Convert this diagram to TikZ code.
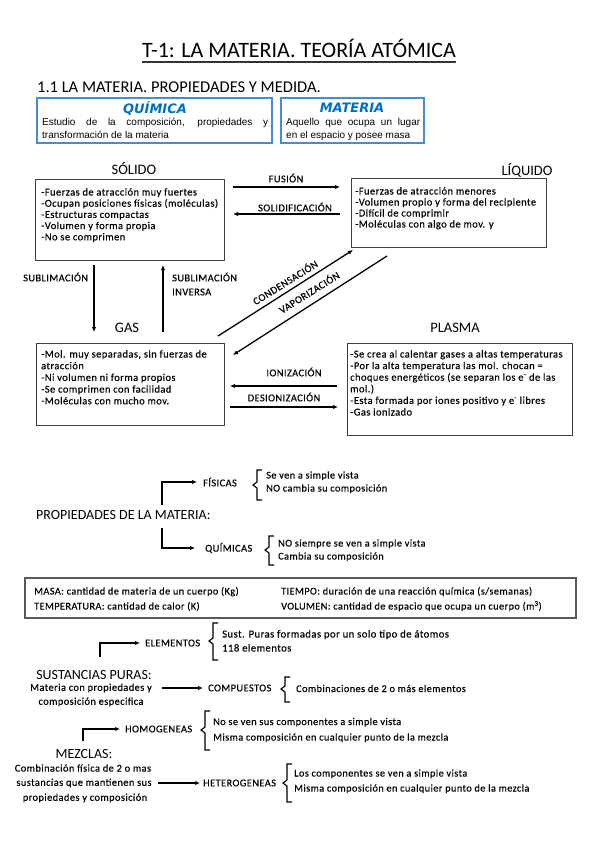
\documentclass[tikz,border=0pt]{standalone}
\usepackage{fontspec}
\setmainfont{Carlito}
\newfontfamily\bodyf[LetterSpace=4,FakeBold=0.3]{Carlito}
\newfontfamily\arialf{Liberation Sans}
\newfontfamily\comicf{DejaVu Sans}
\usetikzlibrary{arrows.meta}
\definecolor{qblue}{RGB}{0,112,192}
\definecolor{bborder}{RGB}{70,140,210}
\newcommand{\tlines}[6][txt]{%
  \foreach \myline [count=\i from 0] in {#6} {\node[#1] (#2\i) at (#3, #4+\i*#5) {\myline};}}
\begin{document}
\begin{tikzpicture}[x=1pt,y=-1pt,
  txt/.style={inner sep=0pt, anchor=base west, font=\bodyf\fontsize{10.5}{12}\selectfont},
  btxt/.style={inner sep=0pt, anchor=base west, font=\bodyf\fontsize{10.3}{12}\selectfont},
  etxt/.style={inner sep=0pt, anchor=base west, font=\bodyf\fontsize{10.7}{12}\selectfont},
  lbl/.style={inner sep=0pt, font=\bodyf\fontsize{10.4}{12}\selectfont},
  head/.style={inner sep=0pt, font=\fontsize{14.5}{16}\selectfont},
  bhead/.style={inner sep=0pt, font=\fontsize{14}{16}\selectfont},
  statebox/.style={draw=black!75, line width=0.9pt, inner sep=0pt},
  bluebox/.style={draw=bborder, line width=1.2pt, inner sep=0pt},
  arr/.style={line width=1.3pt, -{Latex[length=5pt,width=4.5pt]}},
  brc/.style={line width=1.1pt},
  btitle/.style={inner sep=0pt, font=\comicf\bfseries\itshape\fontsize{13}{15}\selectfont, text=qblue},
  atxt/.style={inner sep=0pt, anchor=base west, font=\arialf\fontsize{10}{12}\selectfont},
]
\useasboundingbox[fill=white] (0,0) rectangle (599,848);

% title
\node[inner sep=0pt, anchor=base, font=\fontsize{22}{26}\selectfont] (title) at (299,58) {T-1: LA MATERIA. TEORÍA ATÓMICA};
\draw[line width=1.2pt, black!80] ([yshift=-4pt]title.base west) -- ([yshift=-4pt]title.base east);
\node[inner sep=0pt, anchor=base west, font=\fontsize{16.5}{18}\selectfont] (sub) at (37,93) {1.1 LA MATERIA. PROPIEDADES Y MEDIDA.};

% blue boxes
\node[bluebox, minimum width=235pt, minimum height=45pt] (qbox) at (154.5,120.5) {};
\node[btitle] (qtit) at (155,108) {QUÍMICA};
\node[atxt] (qt1) at (42,125.5) {\makebox[226pt][s]{Estudio de la composición, propiedades y}};
\node[atxt] (qt2) at (42,138.5) {transformación de la materia};
\node[bluebox, minimum width=143pt, minimum height=45pt] (mbox) at (352.5,120.5) {};
\node[btitle] (mtit) at (352,108) {MATERIA};
\node[atxt] (mt1) at (286,125.5) {\makebox[134pt][s]{Aquello que ocupa un lugar}};
\node[atxt] (mt2) at (286,138.5) {en el espacio y posee masa};

% states
\node[head] (hsol) at (134,168) {SÓLIDO};
\node[head] (hliq) at (527,170) {LÍQUIDO};
\node[head] (hgas) at (127,328) {GAS};
\node[head] (hpla) at (455,328) {PLASMA};

\node[statebox, minimum width=189pt, minimum height=81pt] (solid) at (129.5,219.5) {};
\node[statebox, minimum width=195pt, minimum height=69pt] (liquid) at (448.5,212.5) {};
\node[statebox, minimum width=188pt, minimum height=82pt] (gas) at (130,384) {};
\node[statebox, minimum width=225pt, minimum height=92pt] (plasma) at (459.5,389) {};

\tlines{st}{41}{195.5}{11.2}{{-Fuerzas de atracción muy fuertes},{-Ocupan posiciones físicas (moléculas)},{-Estructuras compactas},{-Volumen y forma propia},{-No se comprimen}}
\tlines{lt}{355}{194.5}{11}{{-Fuerzas de atracción menores},{-Volumen propio y forma del recipiente},{-Difícil de comprimir},{-Moléculas con algo de mov. y}}
\tlines{gt}{41}{357.5}{11.7}{{-Mol. muy separadas, sin fuerzas de},{atracción},{-Ni volumen ni forma propios},{-Se comprimen con facilidad},{-Moléculas con mucho mov.}}
\tlines{pt}{350}{357.5}{11.6}{{-Se crea al calentar gases a altas temperaturas},{-Por la alta temperatura las mol. chocan =},{choques energéticos (se separan los e\textsuperscript{-} de las},{mol.)},{-Esta formada por iones positivo y e\textsuperscript{-} libres},{-Gas ionizado}}

% transitions
\coordinate (fusA) at (233,187); \coordinate (fusB) at (340,187);
\coordinate (solA) at (340,214); \coordinate (solB) at (233,214);
\coordinate (subA) at (94,265);  \coordinate (subB) at (94,332);
\coordinate (sinA) at (163,332); \coordinate (sinB) at (163,265);
\coordinate (conA) at (218,336); \coordinate (conB) at (353,250);
\coordinate (vapA) at (387,256); \coordinate (vapB) at (233,355);
\coordinate (ionA) at (337,386); \coordinate (ionB) at (230,386);
\coordinate (desA) at (230,407); \coordinate (desB) at (338,407);
\draw[arr] (fusA) -- (fusB);
\draw[arr] (solA) -- (solB);
\draw[arr] (subA) -- (subB);
\draw[arr] (sinA) -- (sinB);
\draw[arr] (conA) -- (conB);
\draw[arr] (vapA) -- (vapB);
\draw[arr] (ionA) -- (ionB);
\draw[arr] (desA) -- (desB);
\node[lbl] (lfus) at (286,178) {FUSIÓN};
\node[lbl] (lsol) at (295,207) {SOLIDIFICACIÓN};
\node[lbl, anchor=west] (lsub) at (23,277) {SUBLIMACIÓN};
\node[lbl, anchor=west] (lsin1) at (172,277) {SUBLIMACIÓN};
\node[lbl, anchor=west] (lsin2) at (172,292) {INVERSA};
\node[lbl, rotate=32] (lcon) at (285,282) {CONDENSACIÓN};
\node[lbl, rotate=32] (lvap) at (309,292) {VAPORIZACIÓN};
\node[lbl] (lion) at (294,372) {IONIZACIÓN};
\node[lbl] (ldes) at (284,397) {DESIONIZACIÓN};

% propiedades
\node[bhead, anchor=west] (prop) at (36,515) {PROPIEDADES DE LA MATERIA:};
\coordinate (fisA) at (162,505); \coordinate (fisB) at (197,482);
\coordinate (quiA) at (162,528); \coordinate (quiB) at (195,548);
\draw[arr] (fisA) |- (fisB);
\draw[arr] (quiA) |- (quiB);
\node[lbl, anchor=west] (fis) at (203,482) {FÍSICAS};
\node[lbl, anchor=west] (qui) at (205,548) {QUÍMICAS};
\draw[brc] (262,470) -- (257,470) -- (257,482) -- (253,485) -- (257,488) -- (257,500) -- (262,500);
\draw[brc] (274,536) -- (269,536) -- (269,547) -- (265,550) -- (269,553) -- (269,565) -- (274,565);
\tlines[btxt]{ft}{266}{478.5}{13}{{Se ven a simple vista},{NO cambia su composición}}
\tlines[btxt]{qt}{278}{546.5}{13}{{NO siempre se ven a simple vista},{Cambia su composición}}

% magnitudes box
\node[draw=black!65, line width=1.5pt, inner sep=0pt, minimum width=551pt, minimum height=40pt] (magbox) at (300.5,598) {};
\node[btxt] (m1) at (34,594.5) {MASA: cantidad de materia de un cuerpo (Kg)};
\node[btxt] (m2) at (34,609.5) {TEMPERATURA: cantidad de calor (K)};
\node[btxt] (m3) at (281,594.5) {TIEMPO: duración de una reacción química (s/semanas)};
\node[btxt] (m4) at (281,609.5) {VOLUMEN: cantidad de espacio que ocupa un cuerpo (m\textsuperscript{3})};

% sustancias puras
\node[bhead] (sp) at (94,675) {SUSTANCIAS PURAS:};
\node[lbl] (sp1) at (91,688) {Materia con propiedades y};
\node[lbl] (sp2) at (91,702) {composición especifica};
\coordinate (eleA) at (100,657); \coordinate (eleB) at (140,643);
\coordinate (comA) at (162,688); \coordinate (comB) at (203,688);
\draw[arr] (eleA) |- (eleB);
\draw[arr] (comA) -- (comB);
\node[lbl, anchor=west] (ele) at (145,643) {ELEMENTOS};
\node[lbl, anchor=west] (com) at (208,688) {COMPUESTOS};
\draw[brc] (218,623) -- (213,623) -- (213,638) -- (209,641) -- (213,644) -- (213,660) -- (218,660);
\draw[brc] (290,677) -- (285,677) -- (285,686) -- (281,689) -- (285,692) -- (285,702) -- (290,702);
\tlines[etxt]{et}{222}{637.5}{14}{{Sust. Puras formadas por un solo tipo de átomos},{118 elementos}}
\node[btxt] (ct) at (296,692) {Combinaciones de 2 o más elementos};

% mezclas
\node[bhead] (mz) at (84,754) {MEZCLAS:};
\node[lbl] (mz1) at (83,768) {Combinación física de 2 o mas};
\node[lbl] (mz2) at (84,783) {sustancias que mantienen sus};
\node[lbl] (mz3) at (85,798) {propiedades y composición};
\coordinate (homA) at (83,741); \coordinate (homB) at (120,729);
\coordinate (hetA) at (158,783); \coordinate (hetB) at (200,783);
\draw[arr] (homA) |- (homB);
\draw[arr] (hetA) -- (hetB);
\node[lbl, anchor=west] (hom) at (125,729) {HOMOGENEAS};
\node[lbl, anchor=west] (het) at (203,783) {HETEROGENEAS};
\draw[brc] (210,711) -- (205,711) -- (205,727) -- (201,730) -- (205,733) -- (205,750) -- (210,750);
\draw[brc] (292,764) -- (287,764) -- (287,780) -- (283,783) -- (287,786) -- (287,802) -- (292,802);
\tlines[btxt]{ht}{213}{725}{15.5}{{No se ven sus componentes a simple vista},{Misma composición en cualquier punto de la mezcla}}
\tlines[btxt]{xt}{294}{776.5}{15}{{Los componentes se ven a simple vista},{Misma composición en cualquier punto de la mezcla}}
\end{tikzpicture}
\end{document}
